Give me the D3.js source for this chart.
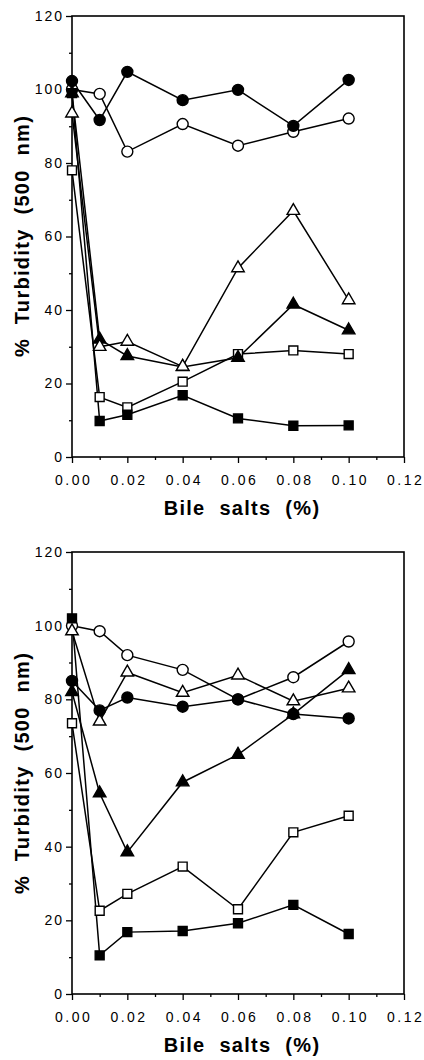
<!DOCTYPE html>
<html>
<head>
<meta charset="utf-8">
<script src="https://cdn.jsdelivr.net/npm/d3@7"></script>
<style>
  body { margin: 0; background: #fff; }
  svg { display: block; }
</style>
</head>
<body>
<div id="svg_container"></div>
<script>
// bile salt concentrations (%)
const bileSalts = [0, 0.01, 0.02, 0.04, 0.06, 0.08, 0.10];
const xTicks = [0, 0.02, 0.04, 0.06, 0.08, 0.10, 0.12];
const xMinor = [0.01, 0.03, 0.05, 0.07, 0.09, 0.11];
const yTicks = [0, 20, 40, 60, 80, 100, 120];
const yMinor = [10, 30, 50, 70, 90, 110];

// top panel, % turbidity
const topFilledCircle = [102.3, 91.7, 104.8, 97.1, 99.9, 90.1, 102.6];
const topOpenCircle = [100, 98.8, 83.1, 90.6, 84.7, 88.5, 92.1];
const topOpenTriangle = [93.5, 30, 31.4, 24.6, 51.4, 67, 42.7];
const topFilledTriangle = [99, 32, 27.5, 24.5, 27, 41.5, 34.5];
const topOpenSquare = [78, 16.3, 13.5, 20.5, 28, 29, 28];
const topFilledSquare = [99, 9.8, 11.5, 16.8, 10.5, 8.5, 8.6];

// bottom panel, % turbidity
const botOpenCircle = [100, 98.5, 92, 88, 80, 86, 95.7];
const botFilledCircle = [85, 77, 80.5, 78, 80, 76, 74.8];
const botOpenTriangle = [98.5, 74, 87.3, 81.8, 86.5, 79.5, 83];
const botFilledTriangle = [82, 54.5, 38.5, 57.5, 65, 76, 88];
const botOpenSquare = [73.5, 22.6, 27.2, 34.6, 23, 43.9, 48.4];
const botFilledSquare = [102, 10.5, 16.8, 17.1, 19.2, 24.2, 16.3];

function init() {
    let width = 424, height = 1060;

    let svg = d3.select("#svg_container")
        .append("svg")
        .attr("width", width)
        .attr("height", height)
        .style("background-color", "#fff");

    let topSeries = [
        {shape: "circle", filled: false, values: topOpenCircle},
        {shape: "circle", filled: true, values: topFilledCircle},
        {shape: "square", filled: false, values: topOpenSquare},
        {shape: "square", filled: true, values: topFilledSquare},
        {shape: "triangle", filled: true, values: topFilledTriangle},
        {shape: "triangle", filled: false, values: topOpenTriangle}
    ];
    let botSeries = [
        {shape: "circle", filled: false, values: botOpenCircle},
        {shape: "triangle", filled: false, values: botOpenTriangle},
        {shape: "circle", filled: true, values: botFilledCircle},
        {shape: "triangle", filled: true, values: botFilledTriangle},
        {shape: "square", filled: false, values: botOpenSquare},
        {shape: "square", filled: true, values: botFilledSquare}
    ];

    drawPanel(svg, topSeries, 16, 457);
    drawPanel(svg, botSeries, 552, 994);
}

function drawPanel(svg, series, top, bottom) {
    let left = 72, right = 404;
    let font = "'Liberation Sans', Arial, Helvetica, sans-serif";

    let x = d3.scaleLinear().domain([0, 0.12]).range([left, right]);
    let y = d3.scaleLinear().domain([0, 120]).range([bottom, top]);

    let g = svg.append("g");

    // minor ticks
    g.append("g")
        .attr("transform", "translate(0," + bottom + ")")
        .call(d3.axisBottom(x).tickValues(xMinor).tickSize(3).tickFormat(""))
        .call(a => a.select(".domain").remove());
    g.append("g")
        .attr("transform", "translate(" + left + ",0)")
        .call(d3.axisLeft(y).tickValues(yMinor).tickSize(3).tickFormat(""))
        .call(a => a.select(".domain").remove());

    // major ticks
    let xAxis = g.append("g")
        .attr("transform", "translate(0," + bottom + ")")
        .call(d3.axisBottom(x).tickValues(xTicks).tickSize(6).tickPadding(12)
            .tickFormat(d3.format(".2f")));
    xAxis.select(".domain").remove();
    xAxis.selectAll("text")
        .attr("font-family", font)
        .attr("font-size", 14)
        .attr("letter-spacing", "2.5px")
        .attr("dx", "1.2px")
        .attr("fill", "#000");

    let yAxis = g.append("g")
        .attr("transform", "translate(" + left + ",0)")
        .call(d3.axisLeft(y).tickValues(yTicks).tickSize(6).tickPadding(2));
    yAxis.select(".domain").remove();
    yAxis.selectAll("text")
        .attr("font-family", font)
        .attr("font-size", 14)
        .attr("letter-spacing", "2px")
        .attr("fill", "#000");

    g.selectAll(".tick line").attr("stroke", "#000").attr("stroke-width", 1.3);

    // frame
    g.append("rect")
        .attr("x", left)
        .attr("y", top)
        .attr("width", right - left)
        .attr("height", bottom - top)
        .attr("fill", "none")
        .attr("stroke", "#000")
        .attr("stroke-width", 1.6);

    // axis titles
    g.append("text")
        .attr("x", (left + right) / 2 + 4)
        .attr("y", bottom + 58)
        .attr("text-anchor", "middle")
        .attr("font-family", font)
        .attr("font-weight", "bold")
        .attr("font-size", 20)
        .attr("letter-spacing", "1.3px")
        .attr("word-spacing", "7px")
        .text("Bile salts (%)");

    g.append("text")
        .attr("transform", "translate(29," + (bottom - 221) + ") rotate(-90)")
        .attr("text-anchor", "middle")
        .attr("font-family", font)
        .attr("font-weight", "bold")
        .attr("font-size", 20)
        .attr("letter-spacing", "1.3px")
        .attr("word-spacing", "7px")
        .text("% Turbidity (500 nm)");

    let line = d3.line()
        .x((d, i) => x(bileSalts[i]))
        .y(d => y(d));

    // lines first
    g.append("g")
        .selectAll("path")
        .data(series)
        .enter()
        .append("path")
        .attr("d", s => line(s.values))
        .attr("fill", "none")
        .attr("stroke", "#000")
        .attr("stroke-width", 1.5);

    let symbols = {
        circle: d3.symbol().type(d3.symbolCircle).size(95),
        square: d3.symbol().type(d3.symbolSquare).size(80),
        triangle: d3.symbol().type(d3.symbolTriangle).size(68)
    };

    series.forEach(function (s) {
        g.append("g")
            .selectAll("path")
            .data(s.values)
            .enter()
            .append("path")
            .attr("d", symbols[s.shape])
            .attr("transform", (d, i) => "translate(" + x(bileSalts[i]) + "," + y(d) + ")")
            .attr("fill", s.filled ? "#000" : "#fff")
            .attr("stroke", "#000")
            .attr("stroke-width", 1.4);
    });
}

init();
</script>
</body>
</html>
